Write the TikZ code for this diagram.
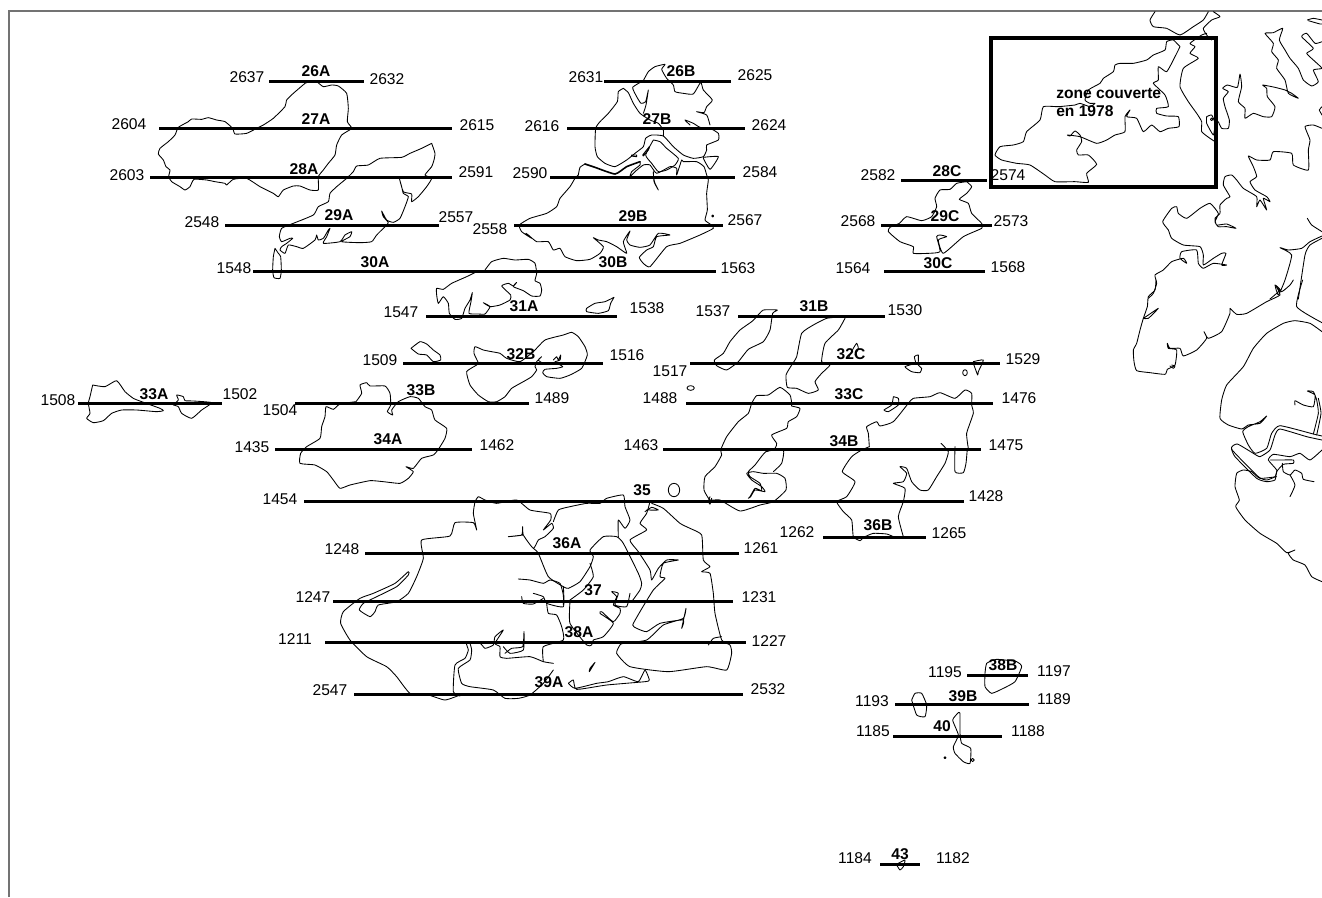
\documentclass[tikz,border=0pt]{standalone}
\usepackage{fontspec}
\setmainfont{Liberation Sans}
\tikzset{
  coast/.style={draw=black,line width=0.65pt,line join=round,line cap=round},
  coastthick/.style={coast,line width=1.2pt},
  transect/.style={draw=black,line width=2.25pt},
  num/.style={font=\fontsize{11.7}{13}\selectfont,inner sep=0pt,text=black},
  sect/.style={font=\fontsize{11.7}{13}\selectfont\bfseries,inner sep=0pt},
  zonebox/.style={draw=black,line width=2.4pt},
  sheet/.style={draw=black!55,line width=0.8pt},
  z/.style n args={2}{shift={(#1,#2)},scale=0.33333}
}
\newcommand{\cl}[1]{\draw[coast] plot[smooth,tension=0.3] coordinates {#1};}
\begin{document}
\begin{tikzpicture}[x=0.75pt,y=-0.75pt]
\useasboundingbox (0,0) rectangle (1322,897);
\clip (0,0) rectangle (1322,897);
\coordinate (fa) at (9,897); \coordinate (fb) at (9,11); \coordinate (fc) at (1322,11);
\draw[sheet] (fa) -- (fb) -- (fc);

% --- top left islands
\begin{scope}[z={60}{50}]
\cl{(735,100)(700,130)(680,150)(675,170)(640,205)(610,225)(590,235)(560,250)(525,252)(518,235)(495,215)(470,210)(445,203)(425,208)(395,207)(385,215)(355,232)(345,255)(325,275)(300,295)(295,312)(310,330)(318,350)(330,360)(326,380)(335,395)(360,410)(375,420)(390,410)(402,388)(440,390)(465,395)(495,400)(500,405)(520,388)(560,385)(600,410)(640,430)(655,440)(670,420)(700,408)(720,408)(750,420)(775,420)(775,380)(790,360)(805,340)(825,315)(830,285)(845,255)(875,235)(862,215)(865,175)(860,130)(835,108)(815,105)(790,110)(770,95)(755,92)(735,100)}
\cl{(1115,280)(1085,295)(1050,310)(1025,322)(960,325)(925,345)(890,348)(880,365)(860,385)(830,410)(810,430)(805,455)(775,470)(760,495)(700,520)(665,535)(658,560)(665,575)(690,565)(698,565)(680,580)(665,590)(660,600)(675,610)(685,585)(710,590)(730,595)(765,570)(770,555)(775,570)(790,565)(805,540)(810,535)(800,560)(790,580)(840,575)(855,555)(875,545)(870,560)(845,575)(900,578)(935,575)(950,555)(975,530)(985,518)(970,500)(965,483)(980,510)(1000,517)(1020,505)(1035,470)(1045,440)(1030,430)(1025,410)(1018,385)(1030,425)(1055,432)(1055,455)(1075,440)(1100,410)(1115,385)(1095,375)(1115,350)(1122,330)(1125,310)(1115,280)}
\cl{(645,595)(640,620)(638,660)(642,683)(660,685)(664,660)(662,620)(655,610)(645,595)}
\end{scope}

% --- 26B-30B group
\begin{scope}[z={480}{50}]
\cl{(490,92)(505,65)(525,50)(555,43)(545,58)(560,85)(580,105)(585,125)(610,130)(640,132)(662,97)(670,120)(697,150)(680,170)(672,188)(650,185)(680,195)(690,225)}
\cl{(490,92)(458,112)(470,140)(483,160)(497,155)(505,120)(498,165)(490,190)}
\cl{(430,115)(415,125)(412,155)(385,190)(360,215)(347,235)(345,290)(352,320)(375,340)(405,350)(440,330)(465,310)(490,290)(497,265)(515,255)(550,258)(580,290)(610,315)(640,325)(670,320)(680,300)(680,285)(715,270)(715,250)(690,235)(660,232)(640,220)(615,210)(630,225)}
\cl{(430,115)(445,128)(460,160)(480,190)(510,210)(535,220)(550,240)(550,258)}
\cl{(295,375)(300,352)(315,342)}
\draw[coastthick] plot[smooth,tension=0.3] coordinates {(315,342)(345,352)(405,372)(440,350)(480,335)};
\cl{(480,335)(480,345)(455,365)(450,380)(465,365)(490,345)(510,345)(530,370)(570,350)(590,355)(590,375)(605,330)(610,335)(650,335)(672,350)(680,375)(685,390)(680,430)(682,480)(675,510)(690,522)(700,535)(660,555)(600,580)(560,590)(510,650)(490,640)(478,622)(500,600)(520,590)(530,560)(570,555)(535,550)(510,585)(480,592)(450,585)(440,570)(450,543)(430,575)(440,610)(410,590)(380,575)(355,570)(340,563)(370,590)(360,610)(330,628)(290,632)(255,620)(240,595)(220,600)(205,575)(170,575)(145,555)(138,550)(155,565)(125,545)(118,525)(150,505)(200,490)(230,470)(240,445)(270,410)(285,385)(295,375)}
\cl{(520,270)(540,275)(560,295)(595,325)(585,345)(560,360)(535,365)(515,340)(497,315)(520,270)}
\cl{(520,365)(522,395)(535,420)(525,400)(520,380)}
\cl{(670,322)(715,320)(690,358)(670,325)}
\cl{(455,315)(470,315)(470,320)(455,318)(455,315)}
\cl{(488,315)(508,290)(505,300)(490,318)(488,315)}
\draw[coast] (698,498) circle (3);
\end{scope}

% --- 30A/31A to 34A
\begin{scope}[z={270}{250}]
\cl{(620,65)(590,80)(545,100)(520,118)(500,115)(500,135)(505,160)(520,140)(535,160)(538,190)(555,208)(575,205)(585,175)(600,150)(607,128)(603,155)(597,190)(625,192)(645,192)(660,170)(640,158)(660,170)(690,165)(720,150)(722,135)(695,108)(715,100)(730,108)(740,97)(730,110)(760,122)(785,138)(810,138)(815,120)(810,100)(795,92)(800,70)(795,40)(775,28)(735,30)(700,25)(665,35)(645,60)}
\cl{(1032,142)(1005,155)(975,160)(950,175)(950,185)(985,190)(1015,182)(1022,160)(1032,142)}
\cl{(423,295)(450,275)(470,282)(490,300)(510,315)(512,330)(490,335)(470,315)(445,312)(423,295)}
\cl{(625,338)(612,310)(615,290)(640,300)(665,305)(690,310)(710,325)(750,335)(790,305)(825,270)(880,255)(905,247)(925,260)(945,290)(952,315)(935,355)(900,375)(870,385)(830,380)(818,368)(825,358)(860,355)(878,350)(860,340)(820,340)(805,330)(815,320)(800,335)(795,350)(800,360)(785,380)(760,395)(725,415)(705,440)(680,455)(655,455)(625,435)(600,405)(590,365)(620,345)(625,338)}
\cl{(850,330)(860,320)(865,330)(872,315)(870,330)(855,335)}
\cl{(258,455)(275,430)(270,405)(290,398)(300,408)(345,408)(360,430)(362,465)(352,485)(368,495)(365,480)(385,455)(420,440)(445,445)(465,470)(485,480)(495,510)(530,535)(525,565)(505,598)(490,615)(455,625)(430,655)(408,650)(430,665)(415,685)(390,700)(340,695)(300,692)(240,705)(210,715)(190,690)(170,665)(135,645)(90,640)(92,610)(110,590)(150,565)(155,530)(165,500)(168,470)(190,478)(210,462)(258,455)}
\end{scope}

% --- 33A
\begin{scope}[z={70}{370}]
\cl{(68,45)(60,80)(55,100)(60,130)(50,145)(70,158)(100,152)(125,130)(155,120)(200,120)(260,125)(280,122)(270,115)(215,95)(190,85)(165,65)(140,32)(105,50)(68,45)}
\cl{(310,105)(325,90)(320,75)(340,80)(345,92)(370,93)(425,98)(395,120)(365,145)(335,130)(325,110)(310,105)}
\end{scope}

% --- 31B to 36B
\begin{scope}[z={680}{300}]
\cl{(230,50)(215,65)(180,90)(150,125)(130,160)(103,180)(110,197)(140,210)(175,185)(205,148)(250,125)(270,90)(278,40)(292,30)(250,30)(230,50)}
\cl{(490,50)(440,55)(400,75)(365,100)(350,170)(335,195)(318,225)(322,262)(350,265)(385,280)(415,270)(405,245)(425,220)(450,195)(425,185)(435,130)(475,90)(495,55)}
\cl{(505,175)(520,145)(530,130)(535,145)(525,165)}
\cl{(708,190)(703,170)(715,165)(715,195)(725,205)(720,218)(695,215)(675,200)(708,190)}
\draw[coast] (32,264) ellipse (11 and 7);
\draw[coast] (855,218) ellipse (7 and 9);
\cl{(880,185)(910,180)(895,215)(893,225)(880,190)}
\cl{(335,310)(330,285)(300,262)(265,285)(230,287)(215,310)(205,340)(175,365)(140,410)(122,450)(125,465)(105,500)(75,530)(72,570)(90,600)(120,600)(180,633)(240,615)(280,605)(318,570)(315,535)(290,520)(250,520)(220,515)(200,520)(215,540)(245,560)(255,575)(225,570)(212,590)(205,595)(210,590)(225,565)(245,572)(240,550)(210,530)(205,515)(225,495)(258,455)(310,450)(305,490)(280,515)}
\cl{(258,455)(285,445)(290,430)(275,405)(320,385)(325,365)(350,350)(360,325)(335,318)(335,310)}
\cl{(568,440)(565,400)(560,380)(590,365)(600,378)(640,365)(685,310)(700,295)(750,290)(780,278)(825,295)(855,270)(875,280)(875,315)(880,340)(860,400)(865,445)}
\cl{(783,430)(805,455)(795,490)(770,530)(745,570)(720,570)(695,545)(680,505)(660,500)(680,520)(670,545)(640,550)(675,565)(670,605)(655,650)(670,710)}
\cl{(825,440)(825,515)(850,518)(858,490)(862,445)}
\cl{(568,440)(545,450)(515,470)(487,515)(525,545)(500,590)(470,605)(490,635)(515,660)(520,710)(540,722)(550,712)}
\cl{(555,710)(580,700)(620,702)(645,712)}
\cl{(640,290)(655,295)(655,315)(625,335)(612,330)(635,315)(640,290)}
\cl{(90,590)(85,605)(90,612)}
\end{scope}

% --- 35 to 39A
\begin{scope}[z={330}{480}]
\cl{(435,65)(445,50)(465,60)(500,70)(560,60)(600,90)(660,100)(662,120)(640,150)(665,130)(670,145)(645,170)(625,180)(610,205)(580,165)(578,140)(575,165)(535,170)(580,165)}
\cl{(435,65)(430,100)(440,150)(430,128)(375,128)(360,168)(275,180)(280,235)(260,290)(235,340)(200,365)(145,375)(135,395)(120,410)(88,390)(100,370)(130,355)(200,320)(235,285)(235,275)(195,310)(130,340)(90,355)(40,395)(32,430)(60,480)(110,530)(170,560)(200,590)(240,640)(295,645)(345,660)(390,645)}
\cl{(390,648)(370,635)(375,555)(405,535)(415,510)(410,490)(450,490)(465,505)(490,495)(495,470)(520,450)(495,490)(510,500)(510,530)(530,535)(600,530)(640,545)(670,550)}
\cl{(670,570)(640,610)(600,645)(565,655)(525,655)(490,630)(420,620)(395,610)(385,565)(420,540)(425,510)(420,490)}
\cl{(520,500)(540,520)(580,510)(582,455)(578,500)(545,505)(525,520)}
\cl{(610,205)(625,220)(655,290)(700,320)(715,325)(750,305)(780,260)(790,230)(780,210)(820,170)(860,170)(880,190)(925,280)(935,310)(930,330)(905,365)}
\cl{(865,170)(865,120)(885,145)(900,120)(885,80)(880,45)(830,55)(810,70)(770,70)(720,80)(685,90)(670,125)}
\cl{(700,320)(700,380)(650,370)(640,350)(610,340)}
\cl{(720,360)(760,330)(790,290)(780,250)}
\cl{(565,297)(600,300)(640,310)(660,300)(690,310)(700,345)(700,375)}
\cl{(575,350)(580,370)(610,372)(640,355)}
\cl{(720,365)(720,430)(770,495)(785,495)(790,480)(820,470)(850,430)(810,400)(815,395)(850,425)(870,400)(870,385)(850,375)(860,350)(845,335)(865,340)(855,375)(890,380)(900,340)(895,365)}
\cl{(650,370)(655,400)(680,405)(695,440)(700,480)(640,500)(640,545)}
\cl{(965,70)(1000,85)(1050,130)(1080,145)(1115,165)(1120,240)(1140,260)(1115,275)(1140,280)(1150,340)(1155,400)(1175,480)(1200,495)(1205,520)(1190,570)(1130,560)(1015,575)(900,560)(860,520)(870,495)(880,490)(950,480)(1000,435)(1060,415)(1068,385)(1055,445)(1060,420)(990,430)(950,455)(920,445)(908,435)(930,395)(970,330)(1005,295)(990,290)(1000,250)(1045,240)(1010,240)(985,265)(965,300)(960,270)(925,215)(900,180)(950,150)(930,130)(950,100)(960,65)}
\cl{(950,90)(985,90)(965,82)(945,95)}
\cl{(715,610)(730,600)(740,628)(830,615)(945,605)(958,600)(945,570)(925,605)(880,590)(835,605)(800,610)(735,625)(715,610)}
\cl{(795,547)(778,575)(780,565)(795,547)}
\cl{(1135,495)(1150,475)(1175,470)}
\cl{(1135,60)(1140,72)(1145,55)}
\draw[coast] (1032,30) ellipse (17 and 20);
\end{scope}

% --- 28C/29C
\begin{scope}[z={860}{140}]
\cl{(320,125)(290,130)(270,148)(240,150)(225,175)(230,200)(215,230)(185,242)(140,230)(118,250)(90,262)(85,275)(120,305)(160,320)(160,340)(205,340)(240,335)(230,290)(240,285)(260,290)(235,300)(250,340)(310,290)(365,265)(365,250)(335,220)(325,190)(298,178)(320,160)(335,140)(320,125)}
\end{scope}

% --- 38B to 43
\begin{scope}[z={880}{650}]
\cl{(315,70)(320,40)(350,28)(410,35)(425,50)(405,95)(370,115)(335,130)(315,110)(315,70)}
\cl{(95,150)(105,130)(125,130)(140,165)(135,200)(110,195)(95,150)}
\cl{(235,188)(218,210)(235,255)(220,290)(225,310)(250,335)(270,340)(272,295)(245,280)(240,250)(240,190)(235,188)}
\draw[coast] (278,330) circle (5);
\draw[coast] (195,323) circle (3);
\cl{(50,645)(60,660)(70,650)(75,630)(55,640)(50,645)}
\end{scope}

% --- north-east coast, inside box
\begin{scope}[z={980}{0}]
\cl{(600,140)(580,120)(560,125)(555,150)(520,165)(500,180)(460,190)(420,190)(405,195)(400,215)(370,235)(360,250)(325,270)(315,300)(330,310)(345,310)(330,320)(300,310)(285,315)(235,320)(190,320)(180,360)(140,395)(130,425)(100,435)(60,440)(45,465)(65,480)(110,490)(150,495)(195,525)(225,545)(285,545)(325,547)(320,520)(350,493)(325,465)(295,465)(290,450)(305,425)(300,405)(285,393)(270,408)(262,405)(300,410)(350,430)(380,420)(405,405)(435,395)(435,350)(450,330)(440,350)(470,355)(490,395)(515,375)(540,395)(565,385)(597,380)(595,350)(560,348)(530,340)(530,325)(565,320)(555,285)(520,250)(535,240)(535,200)(560,215)(585,170)(600,140)}
\cl{(680,100)(665,105)(630,130)(645,140)(630,160)(655,175)(610,205)(600,260)(625,305)(650,340)(665,365)(665,395)(690,415)(710,428)}
\cl{(525,35)(510,60)(520,80)(560,85)(600,105)(640,80)(670,60)(685,35)}
\cl{(700,35)(720,50)(695,60)(670,85)(680,105)(695,120)}
\cl{(680,350)(695,345)(705,370)(700,405)(680,370)(680,350)}
\draw[coast] (695,358) circle (4);
\cl{(1026,385)(1000,375)(975,380)(990,420)(985,450)(985,510)(940,495)(935,460)(880,455)(870,480)(830,480)(805,468)(820,500)(830,530)(810,545)(825,570)(860,590)(870,605)(850,595)(860,630)(840,600)(830,620)(830,590)(790,565)(770,540)(755,525)(735,530)(730,555)(750,590)(740,595)(720,615)(720,640)(705,655)(710,675)(740,672)(768,685)(740,680)(715,680)(705,665)(715,640)(690,610)(660,625)(620,655)(595,640)(590,620)(575,625)(548,665)(565,690)(575,715)(610,735)(660,740)(670,765)(670,795)(700,775)(725,760)(738,760)(725,795)(740,795)(700,790)(670,805)(655,790)(650,750)(605,755)(600,775)(620,790)(610,775)(575,785)(550,810)(525,825)(530,850)(520,880)(505,895)}
\cl{(982,655)(995,675)(1026,695)}
\cl{(1026,708)(990,725)(965,745)(925,750)(900,743)(935,765)(915,840)(895,885)(885,855)(900,870)(870,897)}
\cl{(1026,715)(990,735)(975,765)(955,897)}
\end{scope}
\begin{scope}[z={1150}{0}]
\cl{(205,365)(215,385)(235,385)(238,360)(225,320)(220,295)(235,275)(218,265)(232,255)(262,262)(270,222)(275,260)(265,305)(285,325)(285,355)(310,340)(340,350)(365,350)(375,320)(352,290)(350,265)(338,255)(375,262)(405,270)(425,280)(445,295)(415,280)(405,240)(380,205)(385,180)(365,155)(370,130)(345,100)(370,98)(398,85)(388,120)(405,150)(420,175)(445,205)(460,240)(485,258)(505,245)(490,210)(516,205)(490,180)(470,160)(490,145)(455,110)(470,100)(495,130)(516,125)}
\cl{(472,60)(490,55)(516,60)}
\cl{(475,62)(510,72)(516,72)}
\cl{(516,320)(508,330)(516,345)}
\end{scope}

% --- east coast
\begin{scope}[z={1120}{280}]
\cl{(108,0)(105,30)(85,50)(82,80)(70,115)(60,150)(50,190)(40,210)(42,245)(50,272)(90,278)(135,283)(142,268)(165,255)(170,210)(145,205)(142,190)(150,205)(180,205)(190,228)(230,210)(260,175)(252,155)(265,175)(305,155)(330,100)(330,85)(350,103)(380,100)(440,65)(480,45)(468,18)(485,35)(510,15)(520,0)}
\cl{(70,115)(85,105)(115,85)(85,115)(70,115)}
\cl{(155,255)(165,258)(160,265)(150,258)}
\cl{(548,0)(530,80)(606,128)}
\cl{(606,155)(570,130)(525,122)(490,130)(440,160)(400,205)(370,260)(320,315)(305,360)(300,415)(325,435)(365,447)(385,435)(420,430)(440,408)(420,425)(385,440)(368,455)(385,495)(405,520)(440,505)(455,460)(480,437)(580,462)(606,468)}
\cl{(606,480)(560,470)(480,447)(465,465)(450,510)(420,530)(400,520)(352,492)(335,508)(415,590)(440,600)(465,590)(470,570)(445,540)(460,523)(510,530)(540,520)(570,540)(606,510)}
\cl{(452,540)(480,540)(520,540)(520,550)(490,553)(470,575)(465,600)(440,605)(410,595)(345,530)(335,508)}
\cl{(470,590)(420,595)(395,575)(370,570)(350,580)(345,620)(358,660)(347,680)(375,720)(420,760)(470,790)(500,818)(525,810)(505,820)(520,840)(555,855)(575,890)(606,905)}
\cl{(487,550)(490,575)(510,585)(525,570)(545,580)(550,598)(582,605)}
\cl{(510,585)(525,615)(510,650)}
\cl{(580,462)(595,400)(590,360)(580,335)(562,333)(585,345)(580,380)(550,375)(525,362)(525,375)}
\cl{(590,465)(603,400)(595,355)}
\end{scope}

% --- zone box
\node[inner sep=0pt,minimum width=225*0.75pt,minimum height=149*0.75pt,zonebox] (zone) at (1103.5,112.5) {};
\node[sect,align=left,anchor=west,font=\fontsize{11.7}{13.5}\selectfont\bfseries] (zonetxt) at (1056,102) {zone couverte\\en 1978};

% --- transect lines
\foreach \n/\a/\b/\y in {26A/269/364/81,27A/159/452/128,28A/150/452/177.5,29A/225/439/225,30A/253/716/271,31A/426/617/316,32B/403/603/363,33B/295/529/403,33A/78/222/403,34A/275/472/449,35/304/964/501,36A/365/739/553,37/333/733/601,38A/325/746/642,39A/354/743/694,26B/604/731/81,27B/567/745/128,28B/550/735/177.5,29B/514/723/225,28C/901/987/180,29C/881/992/225,30C/884/985/271,31B/738/885/316,32C/690/1000/363,33C/686/993/403,34B/663/981/449,36B/823/926/537.5,38B/967/1028/675,39B/895/1029/704.5,40/893/1002/736,43/880/920/864}{
  \coordinate (t\n a) at (\a,\y);
  \coordinate (t\n b) at (\b,\y);
  \draw[transect] (t\n a) -- (t\n b);
}

% --- end-point numbers
\foreach \t/\x/\y in {2637/247/77,2632/387/79,2604/129/124,2615/477/125,2603/127/175,2591/476/172,2548/202/222,2557/456/217,1548/234/268,1563/738/268,1547/401/312,1538/647/308,1509/380/360,1516/627/355,1504/280/410,1489/552/398,1508/58/400,1502/240/394,1435/252/447,1462/497/445,1454/280/499,1428/986/496,1248/342/549,1261/761/548,1247/313/597,1231/759/597,1211/295/639,1227/769/641,2547/330/690,2532/768/689,2631/586/77,2625/755/75,2616/542/126,2624/769/125,2590/530/173,2584/760/172,2558/490/229,2567/745/220,2582/878/175,2574/1008/175,2568/858/221,2573/1011/221,1564/853/268,1568/1008/267,1537/713/311,1530/905/310,1517/670/371,1529/1023/359,1488/660/398,1476/1019/398,1463/641/445,1475/1006/445,1262/797/532,1265/949/533,1195/945/672,1197/1054/671,1193/872/701,1189/1054/699,1185/873/731,1188/1028/731,1184/855/858,1182/953/858}{
  \node[num] (n\t) at (\x,\y) {\t};
}

% --- section names
\foreach \t/\x/\y in {26A/316/71,27A/316/119,28A/304/169,29A/339/215,30A/375/262,30B/613/262,31A/524/306,32B/521/354,33B/421/390,33A/154/394,34A/388/439,35/642/490,36A/567/543,37/593/590,38A/579/632,39A/549/682,26B/681/71,27B/657/119,29B/633/216,28C/947/171,29C/945/216,30C/938/263,31B/814/306,32C/851/354,33C/849/394,34B/844/441,36B/878/525,38B/1003/665,39B/963/696,40/942/726,43/900/854}{
  \node[sect] (s\t) at (\x,\y) {\t};
}
\end{tikzpicture}
\end{document}
